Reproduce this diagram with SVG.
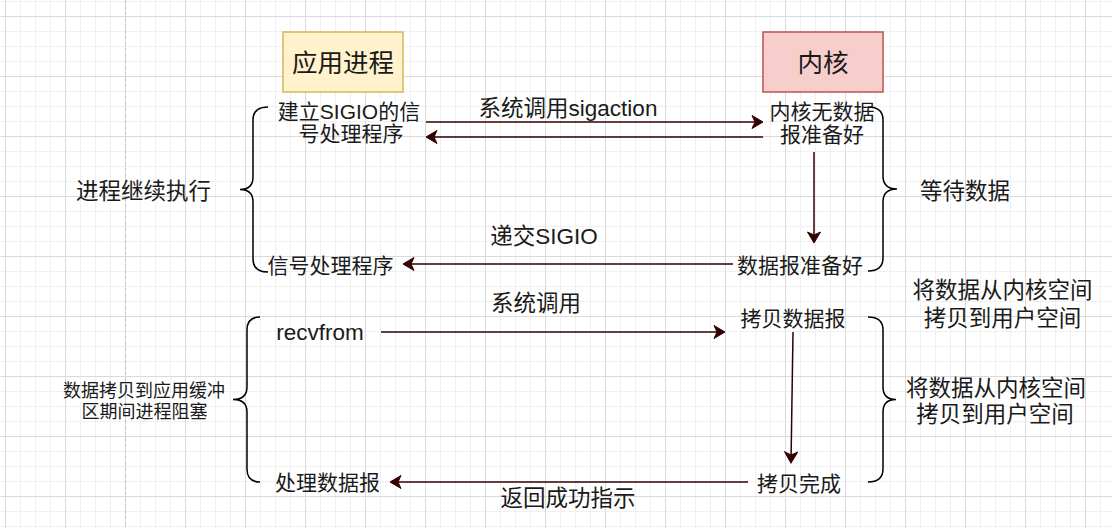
<svg xmlns="http://www.w3.org/2000/svg" width="1112" height="528" viewBox="0 0 1112 528">
  <defs>
    <pattern id="grid" patternUnits="userSpaceOnUse" x="5" y="16" width="60" height="60">
      <path d="M15.5,0V60M30.5,0V60M45.5,0V60M0,15.5H60M0,30.5H60M0,45.5H60" stroke="#f0f0f0" stroke-width="1" fill="none"/>
      <path d="M0.5,0V60M0,0.5H60" stroke="#dadada" stroke-width="1" fill="none"/>
    </pattern>
    <marker id="arr" markerUnits="userSpaceOnUse" markerWidth="14" markerHeight="14" refX="6" refY="7" orient="auto">
      <path d="M12,7 L1,0.5 L4,7 L1,13.5 Z" fill="#330000" stroke="#330000" stroke-width="1" stroke-linejoin="miter"/>
    </marker>
  </defs>
  <style>
    text { font-family: "Liberation Sans", "Noto Sans CJK SC", sans-serif; fill: #1a1a1a; text-anchor: middle; }
    .t24 { font-size: 25.5px; }
    .t22 { font-size: 22.5px; }
    .t21 { font-size: 21px; }
    .t18 { font-size: 18px; }
    .conn { stroke: #330000; stroke-width: 1.5; fill: none; marker-end: url(#arr); }
    .brace { stroke: #000; stroke-width: 1.5; fill: none; }
  </style>
  <rect width="1112" height="528" fill="#ffffff"/>
  <rect width="1112" height="528" fill="url(#grid)"/>
  <line x1="125.5" y1="0" x2="125.5" y2="528" stroke="#c4c4c4" stroke-width="1" stroke-dasharray="3 3"/>

  <g id="app-process">
    <rect x="283" y="32" width="120" height="60" fill="#fff2cc" stroke="#d6b656" stroke-width="1.5"/>
    <text class="t24" x="343" y="72">应用进程</text>
  </g>
  <g id="kernel">
    <rect x="763" y="32" width="120" height="60" fill="#f8cecc" stroke="#b85450" stroke-width="1.5"/>
    <text class="t24" x="823" y="72">内核</text>
  </g>

  <g id="setup-handler">
    <text class="t21" x="349" y="118.5">建立SIGIO的信</text>
    <text class="t21" x="351" y="141">号处理程序</text>
  </g>
  <g id="kernel-no-data">
    <text class="t21" x="822" y="119">内核无数据</text>
    <text class="t21" x="822" y="142">报准备好</text>
  </g>
  <g id="data-ready">
    <text class="t21" x="800" y="273">数据报准备好</text>
  </g>
  <g id="signal-handler">
    <text class="t21" x="330.5" y="273">信号处理程序</text>
  </g>
  <g id="recvfrom">
    <text class="t22" x="320" y="340">recvfrom</text>
  </g>
  <g id="copy-datagram">
    <text class="t21" x="793" y="325.5">拷贝数据报</text>
  </g>
  <g id="copy-done">
    <text class="t21" x="799" y="490.5">拷贝完成</text>
  </g>
  <g id="process-datagram">
    <text class="t21" x="327.5" y="490">处理数据报</text>
  </g>

  <g id="label-continue">
    <text class="t22" x="143.5" y="198.5">进程继续执行</text>
  </g>
  <g id="label-wait">
    <text class="t22" x="965" y="198.5">等待数据</text>
  </g>
  <g id="label-copy-top">
    <text class="t22" x="1002.5" y="297.5">将数据从内核空间</text>
    <text class="t22" x="1002.5" y="325.5">拷贝到用户空间</text>
  </g>
  <g id="label-copy">
    <text class="t22" x="996" y="395.5">将数据从内核空间</text>
    <text class="t22" x="995" y="421.5">拷贝到用户空间</text>
  </g>
  <g id="label-blocked">
    <text class="t18" x="144" y="397">数据拷贝到应用缓冲</text>
    <text class="t18" x="144.5" y="418">区期间进程阻塞</text>
  </g>

  <g id="braces">
    <path class="brace" d="M268,107 Q253,107 253,120 L253,177 Q253,189.5 240,189.5 Q253,189.5 253,202 L253,259 Q253,272 268,272"/>
    <path class="brace" d="M868,107 Q883,107 883,120 L883,176 Q883,189 897,189 Q883,189 883,202 L883,258 Q883,271 868,271"/>
    <path class="brace" d="M260,317 Q247,317 247,330 L247,387 Q247,399.5 233,399.5 Q247,399.5 247,412 L247,469 Q247,482 260,482"/>
    <path class="brace" d="M868,317 Q883,317 883,330 L883,387 Q883,399.5 896,399.5 Q883,399.5 883,412 L883,469 Q883,482 868,482"/>
  </g>

  <g id="connectors">
    <path class="conn" d="M426,122 H757"/>
    <path class="conn" d="M763,137 H432"/>
    <path class="conn" d="M814,152 V237"/>
    <path class="conn" d="M733,264 H409"/>
    <path class="conn" d="M381,332 H719"/>
    <path class="conn" d="M793,332 L791.1,457"/>
    <path class="conn" d="M748,482 H396"/>
    <text class="t22" x="568" y="115.5">系统调用sigaction</text>
    <text class="t22" x="544" y="243.5">递交SIGIO</text>
    <text class="t22" x="536" y="310.5">系统调用</text>
    <text class="t22" x="568" y="505.5">返回成功指示</text>
  </g>
</svg>
